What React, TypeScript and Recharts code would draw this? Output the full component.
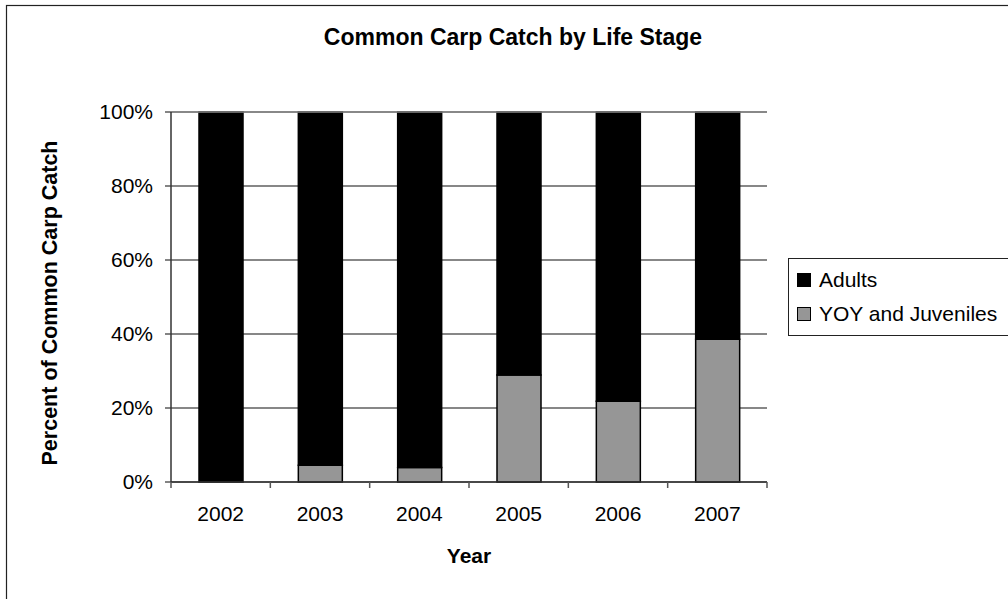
import React from 'react';
import { BarChart, Bar, XAxis, YAxis, CartesianGrid, Legend, ReferenceLine } from 'recharts';

const years = ['2002', '2003', '2004', '2005', '2006', '2007'];
const yoyJuveniles = [0, 4.5, 3.9, 28.9, 21.8, 38.6];
const adults = [100, 95.5, 96.1, 71.1, 78.2, 61.4];
const yTicks = [0, 20, 40, 60, 80, 100];
const legendOrder = ['Adults', 'YOY and Juveniles'];

const data = years.map((year, i) => ({ year, yoy: yoyJuveniles[i], adults: adults[i] }));

const FONT = '"Liberation Sans", Arial, sans-serif';
const X_TICK_SIZE = 6;
const X_TICK_MARGIN = 18;

const CatTick = (props: any) => {
  const { x, y, payload, index, visibleTicksCount } = props;
  const half = payload && payload.offset ? payload.offset : 0;
  const axisY = y - X_TICK_SIZE - X_TICK_MARGIN;
  const isLast = index === (visibleTicksCount || years.length) - 1;
  return (
    <g>
      <line x1={x - half} x2={x - half} y1={axisY} y2={axisY + X_TICK_SIZE} stroke="#555" strokeWidth={1.5} />
      {isLast && (
        <line x1={x + half} x2={x + half} y1={axisY} y2={axisY + X_TICK_SIZE} stroke="#555" strokeWidth={1.5} />
      )}
      <text x={x} y={y} dy="0.71em" textAnchor="middle" fontFamily={FONT} fontSize={21} fill="#000">
        {payload.value}
      </text>
    </g>
  );
};

const LegendBox = (props: any) => {
  const items = [...(props.payload || [])].sort(
    (a: any, b: any) => legendOrder.indexOf(a.value) - legendOrder.indexOf(b.value)
  );
  return (
    <div
      style={{
        width: 230,
        height: 78,
        border: '1px solid #222',
        boxSizing: 'border-box',
        background: '#fff',
        fontFamily: FONT,
        fontSize: 21,
        paddingTop: 4,
        textAlign: 'left',
      }}
    >
      {items.map((it: any) => (
        <div key={it.value} style={{ display: 'flex', alignItems: 'center', height: 34, marginLeft: 8 }}>
          <div
            style={{
              width: 12,
              height: 12,
              background: it.color,
              border: '1px solid #000',
              marginRight: 8,
              flex: 'none',
            }}
          />
          <span style={{ color: '#000', whiteSpace: 'nowrap' }}>{it.value}</span>
        </div>
      ))}
    </div>
  );
};

export default function App() {
  return (
    <div style={{ position: 'absolute', left: 0, top: 0, width: 1008, height: 599, background: '#fff', overflow: 'hidden' }}>
      <svg width={1008} height={599} style={{ position: 'absolute', left: 0, top: 0 }}>
        <rect x={6.5} y={5.5} width={1200} height={800} fill="#fff" stroke="#222" strokeWidth={1.2} />
      </svg>
      <div style={{ position: 'absolute', left: 0, top: 0 }}>
        <BarChart
          width={1008}
          height={599}
          data={data}
          margin={{ top: 112, right: 11, bottom: 77, left: 100 }}
          barSize={44}
          style={{ fontFamily: FONT }}
        >
          <CartesianGrid horizontal vertical={false} stroke="#111" strokeWidth={1.2} />
          <XAxis
            xAxisId="cat"
            dataKey="year"
            height={40}
            tickLine={false}
            axisLine={{ stroke: '#333', strokeWidth: 1.5 }}
            tickSize={X_TICK_SIZE}
            tickMargin={X_TICK_MARGIN}
            tick={<CatTick />}
            interval={0}
          />
          <XAxis xAxisId="edge" type="number" domain={[0, 6]} hide orientation="top" />
          <YAxis
            width={71}
            domain={[0, 100]}
            ticks={yTicks}
            tickFormatter={(v: number) => `${v}%`}
            tickSize={6}
            tickMargin={12}
            tickLine={{ stroke: '#333', strokeWidth: 1.2 }}
            axisLine={{ stroke: '#333', strokeWidth: 1.5 }}
            tick={{ fill: '#000', fontSize: 21, fontFamily: FONT }}
            interval={0}
          />
          <ReferenceLine xAxisId="edge" y={100} stroke="#888" strokeWidth={1.5} />
          <ReferenceLine xAxisId="edge" x={6} stroke="#888" strokeWidth={1.5} />
          <Bar xAxisId="cat" dataKey="yoy" name="YOY and Juveniles" stackId="a" fill="#969696" stroke="#000" strokeWidth={1.5} isAnimationActive={false} />
          <Bar xAxisId="cat" dataKey="adults" name="Adults" stackId="a" fill="#000" stroke="#000" strokeWidth={1.5} isAnimationActive={false} />
          <Legend
            layout="vertical"
            align="right"
            verticalAlign="middle"
            content={<LegendBox />}
            wrapperStyle={{ position: 'absolute', left: 788, top: 258, right: 'auto', bottom: 'auto', width: 230, height: 78 }}
          />
        </BarChart>
      </div>
      <svg width={1008} height={599} style={{ position: 'absolute', left: 0, top: 0, pointerEvents: 'none' }}>
        <text x={513} y={37} textAnchor="middle" dominantBaseline="central" fontFamily={FONT} fontWeight="bold" fontSize={23} fill="#000">
          Common Carp Catch by Life Stage
        </text>
        <text x={469} y={555} textAnchor="middle" dominantBaseline="central" fontFamily={FONT} fontWeight="bold" fontSize={21} fill="#000">
          Year
        </text>
        <text
          x={50}
          y={303}
          textAnchor="middle"
          dominantBaseline="central"
          fontFamily={FONT}
          fontWeight="bold"
          fontSize={21.5}
          fill="#000"
          transform="rotate(-90 50 303)"
        >
          Percent of Common Carp Catch
        </text>
      </svg>
    </div>
  );
}
